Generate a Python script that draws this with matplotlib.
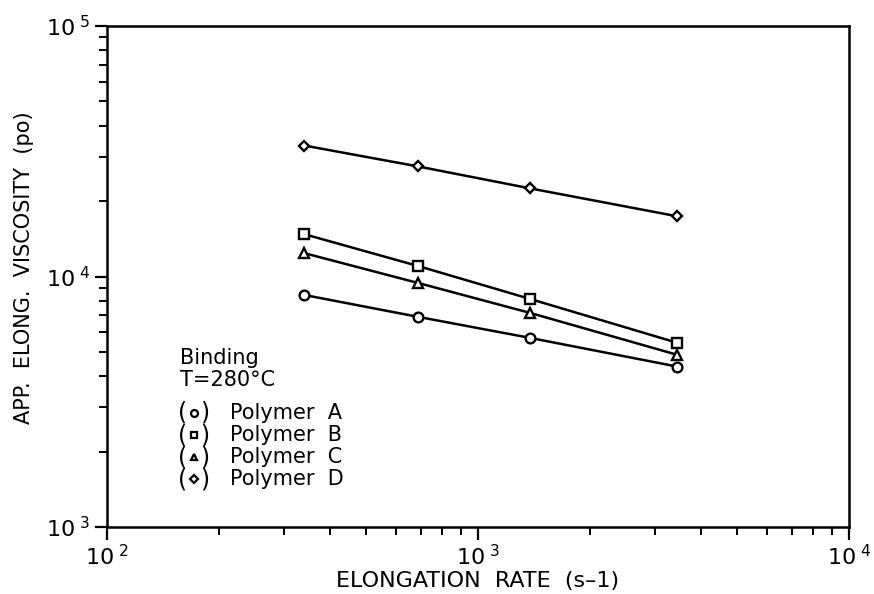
import math
import matplotlib
matplotlib.use("Agg")
import matplotlib.pyplot as plt
from matplotlib.ticker import LogLocator, FuncFormatter, NullFormatter

plt.rcParams['font.family'] = ['DejaVu Sans']
plt.rcParams['mathtext.default'] = 'regular'

# data
rate = [340, 690, 1380, 3440]
polymer_a = [8440, 6900, 5690, 4370]
polymer_b = [14760, 11010, 8140, 5440]
polymer_c = [12400, 9420, 7160, 4870]
polymer_d = [33340, 27500, 22490, 17400]
series_labels = ["Polymer  A", "Polymer  B", "Polymer  C", "Polymer  D"]
series_markers = ["o", "s", "^", "D"]

fig = plt.figure(figsize=(8.74, 5.94), dpi=100)
ax = fig.add_axes([0.1224, 0.1128, 0.8490, 0.8434])

series = [polymer_a, polymer_b, polymer_c, polymer_d]
sizes = [7, 6.5, 7, 5.5]
for vals, m, s in zip(series, series_markers, sizes):
    ax.plot(rate, vals, color='black', lw=1.8, marker=m, ms=s,
            mfc='white', mec='black', mew=1.7)

ax.set_xscale('log')
ax.set_yscale('log')
ax.set_xlim(100, 10000)
ax.set_ylim(1000, 100000)

def fmt(v, pos):
    e = int(round(math.log10(v)))
    return r'10$^{\ %d}$' % e

for axis in (ax.xaxis, ax.yaxis):
    axis.set_major_locator(LogLocator(base=10, numticks=10))
    axis.set_minor_locator(LogLocator(base=10, subs=range(2, 10), numticks=20))
    axis.set_major_formatter(FuncFormatter(fmt))
    axis.set_minor_formatter(NullFormatter())

ax.tick_params(which='major', direction='out', length=9, width=1.6, labelsize=16, pad=3)
ax.tick_params(which='minor', direction='out', length=6, width=1.4)
ax.tick_params(top=False, right=False)
for sp in ax.spines.values():
    sp.set_linewidth(1.8)

ax.set_xlabel("ELONGATION  RATE  (s\u20131)", fontsize=16)
ax.xaxis.set_label_coords(0.5, -0.087)
ax.set_ylabel("APP.  ELONG.  VISCOSITY  (po)", fontsize=15)
ax.yaxis.set_label_coords(-0.098, 0.517)

# annotation / key
tr = ax.transAxes
ax.text(0.098, 0.337, "Binding", transform=tr, fontsize=15, va='center', ha='left')
ax.text(0.098, 0.293, "T=280\u00b0C", transform=tr, fontsize=15, va='center', ha='left')
rows = [0.228, 0.183, 0.139, 0.095]
for yy, m, lab in zip(rows, series_markers, series_labels):
    ax.text(0.102, yy, "(", transform=tr, fontsize=17, va='center', ha='center')
    ax.text(0.132, yy, ")", transform=tr, fontsize=17, va='center', ha='center')
    ax.plot([0.117], [yy], transform=tr, marker=m, ms=5 if m != 'D' else 4.5,
            mfc='white', mec='black', mew=1.6, ls='none', clip_on=False)
    ax.text(0.166, yy, lab, transform=tr, fontsize=15, va='center', ha='left')

fig.savefig("out.png", dpi=100)
